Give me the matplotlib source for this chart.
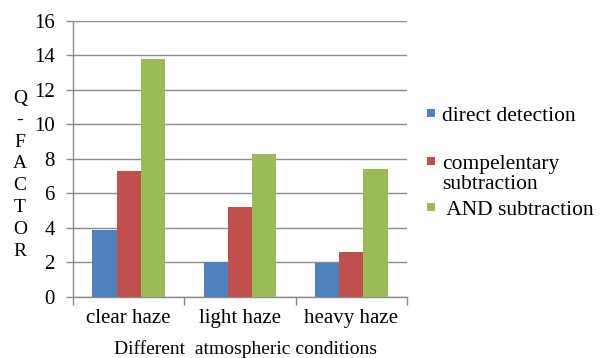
import matplotlib
matplotlib.use("Agg")
import matplotlib.pyplot as plt
import numpy as np
from matplotlib.patches import Rectangle

categories = ["clear haze", "light haze", "heavy haze"]
series_names = ["direct detection", "compelentary\nsubtraction", " AND subtraction"]
direct_detection = [3.9, 2.0, 1.95]
complementary_subtraction = [7.3, 5.2, 2.6]
and_subtraction = [13.8, 8.3, 7.4]
yticks = [0, 2, 4, 6, 8, 10, 12, 14, 16]

colors = ["#4F81BD", "#C0504D", "#9BBB59"]
values = [direct_detection, complementary_subtraction, and_subtraction]

plt.rcParams["font.family"] = ["Liberation Serif", "DejaVu Serif"]

W, H = 602, 358
fig = plt.figure(figsize=(W / 100, H / 100), dpi=100)
ax = fig.add_axes([0.1213, 0.1704, 0.5547, 0.7716])

x = np.arange(len(categories))
w = 0.218
for i, (vals, c) in enumerate(zip(values, colors)):
    ax.bar(x + (i - 1) * w, vals, width=w, color=c, zorder=3)

ax.set_xlim(-0.5, 2.5)
ax.set_ylim(0, 16)
ax.set_yticks(yticks)
ax.set_yticklabels([str(t) for t in yticks], fontsize=15)
ax.yaxis.grid(True, color="#8c8c8c", linewidth=1.0, zorder=0)

ax.set_xticks(x)
ax.set_xticklabels(categories, fontsize=15)
ax.tick_params(axis="x", which="major", length=0, pad=9)
ax.set_xticks([-0.5, 0.5, 1.5, 2.5], minor=True)
ax.tick_params(axis="x", which="minor", length=6, color="#8c8c8c", width=1)
ax.tick_params(axis="y", length=5, color="#8c8c8c", width=1, pad=8)

for s in ["top", "right"]:
    ax.spines[s].set_visible(False)
for s in ["left", "bottom"]:
    ax.spines[s].set_color("#8c8c8c")
    ax.spines[s].set_linewidth(1.0)

# axis titles
fig.text(245 / W, 1 - 349 / H, "Different  atmospheric conditions",
         fontsize=14, ha="center", va="center")
fig.text(20 / W, 1 - 90 / H, "Q\n-\nF\nA\nC\nT\nO\nR", fontsize=14,
         ha="center", va="top", linespacing=1.37)

# legend: colour swatch plus label, one row per series
legend_rows = [113, 161, 207]
for name, c, yc in zip(series_names, colors, legend_rows):
    fig.patches.append(Rectangle((427 / W, 1 - (yc + 4) / H), 8 / W, 8 / H,
                                 transform=fig.transFigure, facecolor=c,
                                 edgecolor="none"))
    fig.text(442 / W, 1 - (yc - 6) / H, name, fontsize=15.5, ha="left",
             va="top", linespacing=1.1)

fig.savefig("out.png", dpi=100)
